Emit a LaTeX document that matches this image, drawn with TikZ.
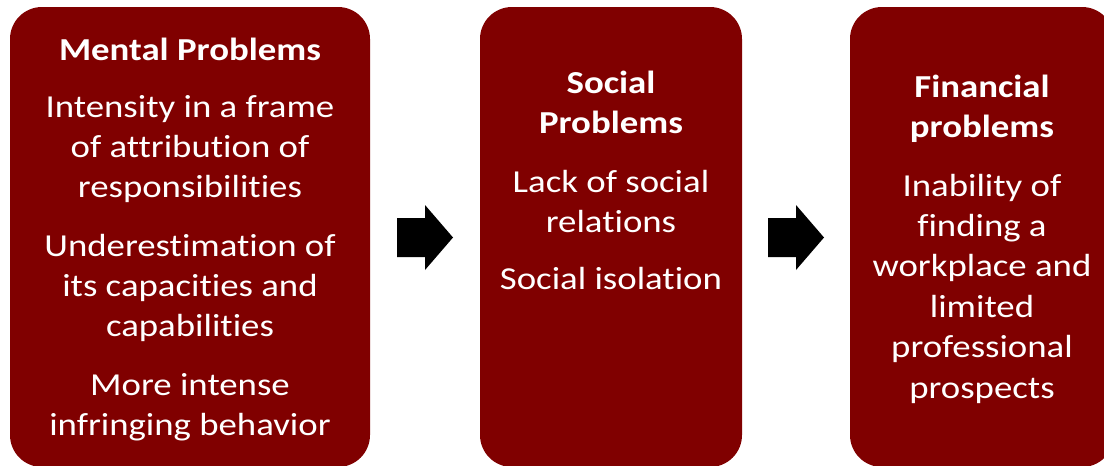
\documentclass[tikz,border=0pt]{standalone}
\usepackage{fontspec}
\setmainfont{Carlito}[FakeStretch=1.15, Ligatures=NoCommon]
\usetikzlibrary{calc}
\definecolor{boxred}{RGB}{128,0,0}
\begin{document}
\begin{tikzpicture}[x=1pt,y=-1pt,
  panel/.style={rectangle, rounded corners=32pt, fill=boxred, inner sep=0pt},
  body/.style={text=white, font=\fontsize{32}{40}\selectfont, anchor=base, inner sep=0pt},
  title/.style={body, font=\fontsize{32}{40}\selectfont\bfseries},
  blockarrow/.pic={\fill[black] (0,-19.5) -- (28,-19.5) -- (28,-32.5) -- (56,0)
     -- (28,32.5) -- (28,19.5) -- (0,19.5) -- cycle;}]
\clip (0,0) rectangle (1104,466);

% three panels
\node[panel, minimum width=360pt, minimum height=460pt] (mental) at (190,237) {};
\node[panel, minimum width=262pt, minimum height=460pt] (social) at (611,237) {};
\node[panel, minimum width=264pt, minimum height=460pt] (financial) at (982,237) {};

% mental problems
\node[title] (m0) at (mental.center |- 0,60) {Mental Problems};
\node[body] (m1) at (mental.center |- 0,117) {Intensity in a frame};
\node[body] (m2) at (mental.center |- 0,157) {of attribution of};
\node[body] (m3) at (mental.center |- 0,197) {responsibilities};
\node[body] (m4) at (mental.center |- 0,256) {Underestimation of};
\node[body] (m5) at (mental.center |- 0,296) {its capacities and};
\node[body] (m6) at (mental.center |- 0,336) {capabilities};
\node[body] (m7) at (mental.center |- 0,395) {More intense};
\node[body] (m8) at (mental.center |- 0,435) {infringing behavior};

% social problems
\node[title] (s0) at (social.center |- 0,93) {Social};
\node[title] (s1) at (social.center |- 0,133) {Problems};
\node[body] (s2) at (social.center |- 0,192) {Lack of social};
\node[body] (s3) at (social.center |- 0,232) {relations};
\node[body] (s4) at (social.center |- 0,289) {Social isolation};

% financial problems
\node[title] (f0) at (financial.center |- 0,97) {Financial};
\node[title] (f1) at (financial.center |- 0,137) {problems};
\node[body] (f2) at (financial.center |- 0,196) {Inability of};
\node[body] (f3) at (financial.center |- 0,236) {finding a};
\node[body] (f4) at (financial.center |- 0,276) {workplace and};
\node[body] (f5) at (financial.center |- 0,317) {limited};
\node[body] (f6) at (financial.center |- 0,357) {professional};
\node[body] (f7) at (financial.center |- 0,398) {prospects};

% block arrows between panels
\coordinate (a1) at ($(mental.east)!0.5!(social.west)+(-28,0.5)$);
\coordinate (a2) at ($(social.east)!0.5!(financial.west)+(-28,0.5)$);
\pic at (a1) {blockarrow};
\pic at (a2) {blockarrow};
\end{tikzpicture}
\end{document}
